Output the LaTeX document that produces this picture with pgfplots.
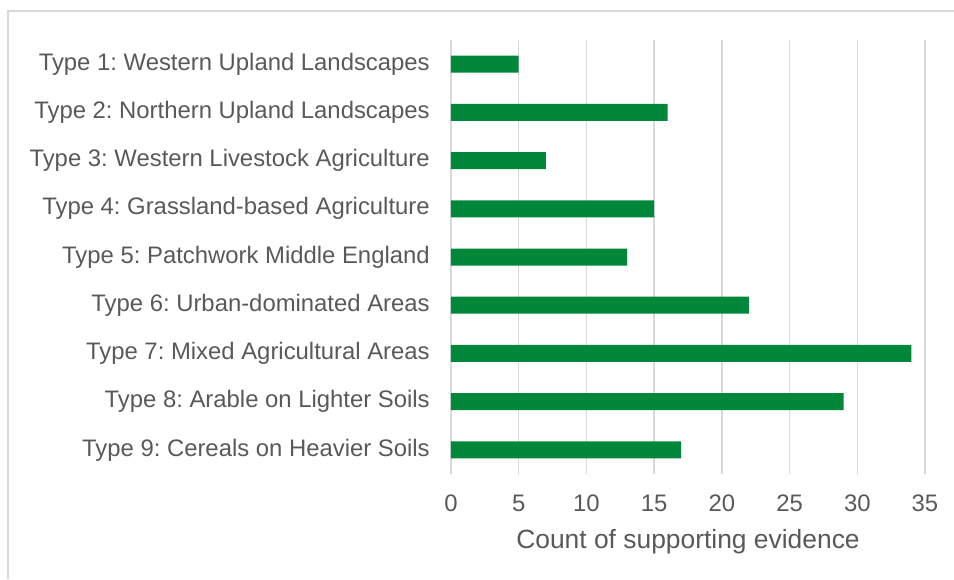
\documentclass[border=0pt]{standalone}
\usepackage{pgfplots}
\pgfplotsset{compat=1.18}
\usepackage{fontspec}
\setmainfont{Liberation Sans}
\frenchspacing
\definecolor{bargreen}{RGB}{0,135,58}
\definecolor{gridgray}{RGB}{217,217,217}
\definecolor{txtgray}{RGB}{89,89,89}
\begin{document}
\begin{tikzpicture}
\useasboundingbox (0,0) rectangle (715.5pt,434.25pt);
\draw[gridgray, line width=1pt] (6pt,0) -- (6pt,426pt) -- (715.5pt,426pt);
\begin{axis}[
  at={(338.25pt,78.75pt)}, anchor=south west,
  scale only axis, width=355.5pt, height=325.5pt,
  xbar, bar width=12.75pt,
  xmin=0, xmax=35, ymin=-0.5, ymax=8.5, y dir=reverse,
  xtick={0,5,...,35},
  ytick={0,...,8},
  yticklabels={Type 1: Western Upland Landscapes,Type 2: Northern Upland Landscapes,Type 3: Western Livestock Agriculture,Type 4: Grassland-based Agriculture,Type 5: Patchwork Middle England,Type 6: Urban-dominated Areas,Type 7: Mixed Agricultural Areas,Type 8: Arable on Lighter Soils,Type 9: Cereals on Heavier Soils},
  xmajorgrids, grid style={gridgray, line width=1.1pt},
  axis line style={draw=none}, tick style={draw=none},
  /pgf/number format/assume math mode=true,
  ticklabel style={font=\fontsize{17.9pt}{20pt}\selectfont, text=txtgray},
  xticklabel style={anchor=base, inner sep=0pt, yshift=-27.75pt},
  yticklabel style={anchor=east, inner sep=0pt, xshift=-11.5pt},
  xlabel={Count of supporting evidence},
  xlabel style={at={(axis description cs:0.5,0)}, anchor=base, inner sep=0pt, yshift=-55.5pt, font=\fontsize{19.8pt}{22pt}\selectfont, text=txtgray},
]
\addplot[fill=bargreen, draw=none] coordinates {(5,0) (16,1) (7,2) (15,3) (13,4) (22,5) (34,6) (29,7) (17,8)};
\end{axis}
\end{tikzpicture}
\end{document}
